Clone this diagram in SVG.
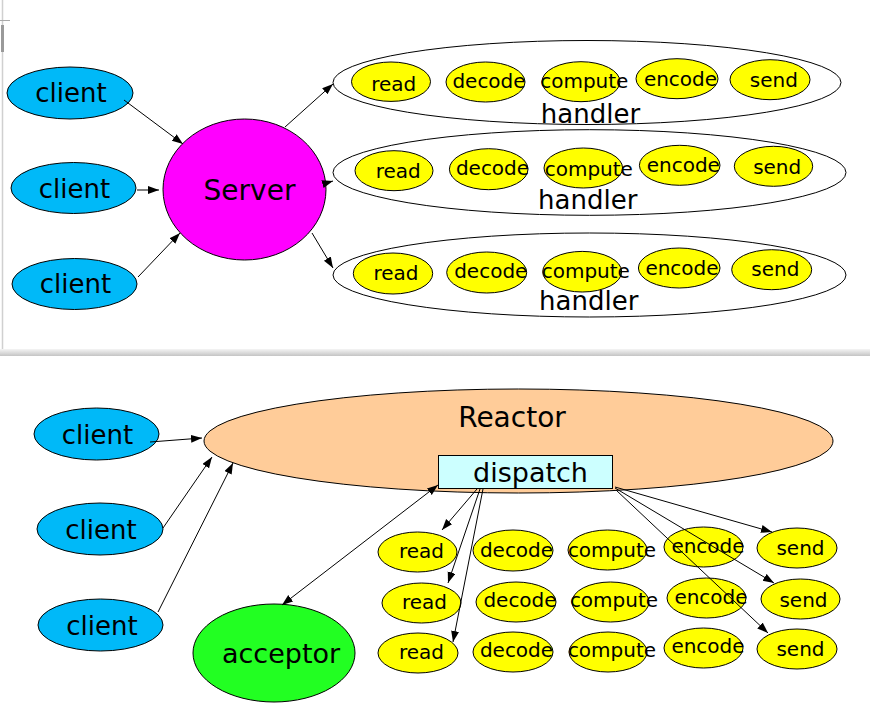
<svg xmlns="http://www.w3.org/2000/svg" width="870" height="712" viewBox="0 0 870 712">
<defs>
<marker id="ah" markerUnits="userSpaceOnUse" markerWidth="12" markerHeight="9" refX="11" refY="4" orient="auto-start-reverse"><path d="M0,0 L11,4 L0,8 z" fill="#000"/></marker>
<linearGradient id="band" x1="0" y1="0" x2="0" y2="1"><stop offset="0" stop-color="#f4f4f4"/><stop offset="0.6" stop-color="#d8d8d8"/><stop offset="1" stop-color="#c4c4c4"/></linearGradient>
</defs>
<style>
text{font-family:"DejaVu Sans","Verdana",sans-serif;fill:#000;text-anchor:middle}
.n{stroke:#000;stroke-width:1}
.cl{fill:#00b9f8}
.y{fill:#ffff00}
.h{fill:none}
.t26{font-size:26px}
.t20{font-size:20px}
.t27{font-size:27px}
.e{stroke:#000;stroke-width:1;fill:none;marker-end:url(#ah)}
</style>
<rect width="870" height="712" fill="#fff"/>
<g id="chrome">
<line x1="2.5" y1="0" x2="2.5" y2="352" stroke="#d0d0d0" stroke-width="1.5"/>
<rect x="1" y="25" width="3" height="27" fill="#9a9a9a"/>
<line x1="0" y1="20.5" x2="10" y2="20.5" stroke="#aaa"/>
<rect x="0" y="349" width="870" height="7" fill="url(#band)"/>
</g>
<g id="top-clients">
<g id="c1"><ellipse class="n cl" cx="70" cy="93" rx="63" ry="26"/><text class="t26" x="71" y="102">client</text></g>
<g id="c2"><ellipse class="n cl" cx="73.5" cy="188" rx="62.5" ry="25.5"/><text class="t26" x="74.5" y="198">client</text></g>
<g id="c3"><ellipse class="n cl" cx="74.5" cy="284" rx="62.5" ry="25.5"/><text class="t26" x="75.5" y="293">client</text></g>
</g>
<g id="server"><ellipse class="n" fill="#ff00ff" cx="244.5" cy="189.5" rx="81.5" ry="70.5"/><text style="font-size:28px" x="249.5" y="200">Server</text></g>
<g id="handler1">
<ellipse class="n h" cx="587" cy="82.5" rx="254" ry="42"/>
<text class="t26" x="590.5" y="123">handler</text>
<ellipse class="n y" cx="391" cy="81.7" rx="39.5" ry="19.7"/><text class="t20" x="393.7" y="90.5">read</text>
<ellipse class="n y" cx="485.5" cy="82" rx="39.5" ry="20"/><text class="t20" x="489" y="88">decode</text>
<ellipse class="n y" cx="581" cy="81.7" rx="39" ry="20"/><text class="t20" x="584.3" y="88">compute</text>
<ellipse class="n y" cx="677" cy="78.7" rx="41" ry="20"/><text class="t20" x="680.5" y="86">encode</text>
<ellipse class="n y" cx="770" cy="79.7" rx="40" ry="20"/><text class="t20" x="773.8" y="87">send</text>
</g>
<g id="handler2">
<ellipse class="n h" cx="589.5" cy="172.5" rx="256.5" ry="42.8"/>
<text class="t26" x="587.7" y="208.5">handler</text>
<ellipse class="n y" cx="394" cy="170.7" rx="39" ry="20"/><text class="t20" x="398.3" y="178">read</text>
<ellipse class="n y" cx="488.7" cy="169.2" rx="39.3" ry="20.5"/><text class="t20" x="492.5" y="175">decode</text>
<ellipse class="n y" cx="583.3" cy="168" rx="39.3" ry="20"/><text class="t20" x="588.8" y="175.5">compute</text>
<ellipse class="n y" cx="679.7" cy="165.3" rx="40.3" ry="20"/><text class="t20" x="683.3" y="172">encode</text>
<ellipse class="n y" cx="773.5" cy="166.3" rx="39.2" ry="20"/><text class="t20" x="777.2" y="173.5">send</text>
</g>
<g id="handler3">
<ellipse class="n h" cx="589.5" cy="275" rx="256.5" ry="42"/>
<text class="t26" x="588.7" y="309.5">handler</text>
<ellipse class="n y" cx="393" cy="273.5" rx="39.7" ry="20.5"/><text class="t20" x="396" y="279.7">read</text>
<ellipse class="n y" cx="486.7" cy="272.5" rx="40" ry="20.5"/><text class="t20" x="490.8" y="278">decode</text>
<ellipse class="n y" cx="582.2" cy="271.7" rx="39.5" ry="20.3"/><text class="t20" x="585.8" y="278">compute</text>
<ellipse class="n y" cx="679.2" cy="268" rx="40.8" ry="20"/><text class="t20" x="682" y="274.7">encode</text>
<ellipse class="n y" cx="771.7" cy="269.7" rx="40" ry="20"/><text class="t20" x="775.3" y="275.7">send</text>
</g>
<g id="reactor"><ellipse class="n" fill="#ffcc99" cx="518.5" cy="441" rx="314.5" ry="52"/><text style="font-size:28px" x="512" y="427">Reactor</text></g>
<g id="dispatch"><rect class="n" fill="#ccffff" x="438.5" y="455.5" width="174" height="33"/><text class="t27" x="530.5" y="482">dispatch</text></g>
<g id="acceptor"><ellipse class="n" fill="#22ff22" cx="274" cy="653" rx="81" ry="49"/><text class="t27" x="281" y="663">acceptor</text></g>
<g id="bottom-clients">
<g id="bc1"><ellipse class="n cl" cx="96.5" cy="434" rx="62.5" ry="26"/><text class="t26" x="97.5" y="444">client</text></g>
<g id="bc2"><ellipse class="n cl" cx="100" cy="529" rx="63" ry="26"/><text class="t26" x="101" y="539">client</text></g>
<g id="bc3"><ellipse class="n cl" cx="100.5" cy="625" rx="62.5" ry="26"/><text class="t26" x="102" y="635">client</text></g>
</g>
<g id="workers">
<ellipse class="n y" cx="417.5" cy="552" rx="39.5" ry="20"/><text class="t20" x="421.5" y="558">read</text>
<ellipse class="n y" cx="513" cy="550.5" rx="40" ry="20.5"/><text class="t20" x="516.5" y="557">decode</text>
<ellipse class="n y" cx="607.5" cy="550" rx="39.5" ry="20"/><text class="t20" x="612" y="557">compute</text>
<ellipse class="n y" cx="703.5" cy="547" rx="39.5" ry="20"/><text class="t20" x="708" y="553">encode</text>
<ellipse class="n y" cx="797" cy="548" rx="40" ry="20"/><text class="t20" x="800.5" y="555">send</text>
<ellipse class="n y" cx="421.5" cy="603" rx="39.5" ry="20"/><text class="t20" x="424.5" y="609">read</text>
<ellipse class="n y" cx="516" cy="602" rx="40" ry="20"/><text class="t20" x="520" y="607">decode</text>
<ellipse class="n y" cx="610.5" cy="602" rx="38.5" ry="20"/><text class="t20" x="614" y="607">compute</text>
<ellipse class="n y" cx="706.5" cy="598" rx="39.5" ry="20"/><text class="t20" x="711" y="604">encode</text>
<ellipse class="n y" cx="800.5" cy="599" rx="39.5" ry="20"/><text class="t20" x="803.5" y="607">send</text>
<ellipse class="n y" cx="418" cy="653" rx="40" ry="20"/><text class="t20" x="421.5" y="659">read</text>
<ellipse class="n y" cx="513" cy="652" rx="40" ry="20"/><text class="t20" x="516.5" y="657">decode</text>
<ellipse class="n y" cx="608" cy="652" rx="39" ry="20"/><text class="t20" x="612" y="657">compute</text>
<ellipse class="n y" cx="703.5" cy="648" rx="39.5" ry="20"/><text class="t20" x="708" y="653">encode</text>
<ellipse class="n y" cx="797" cy="649" rx="40" ry="20"/><text class="t20" x="800.5" y="656">send</text>
</g>
<g id="connectors">
<line class="e" x1="124" y1="100" x2="183" y2="144"/>
<line class="e" x1="137" y1="190" x2="159" y2="190"/>
<line class="e" x1="138" y1="277" x2="180" y2="233"/>
<line class="e" x1="285" y1="127" x2="333" y2="84"/>
<line class="e" x1="323" y1="184" x2="333" y2="181"/>
<line class="e" x1="312" y1="233" x2="333" y2="268"/>
<line class="e" x1="150" y1="442" x2="202" y2="438"/>
<line class="e" x1="163" y1="528" x2="212" y2="457"/>
<line class="e" x1="158" y1="612" x2="233" y2="463"/>
<line class="e" style="marker-start:url(#ah)" x1="282" y1="605" x2="438" y2="485"/>
<line class="e" x1="477" y1="489" x2="442" y2="530"/>
<line class="e" x1="480" y1="489" x2="448" y2="583"/>
<line class="e" x1="483" y1="489" x2="453" y2="642"/>
<line class="e" x1="615" y1="487" x2="772" y2="532"/>
<line class="e" x1="615" y1="488" x2="774" y2="583"/>
<line class="e" x1="616" y1="490" x2="768" y2="633"/>
</g>
</svg>
